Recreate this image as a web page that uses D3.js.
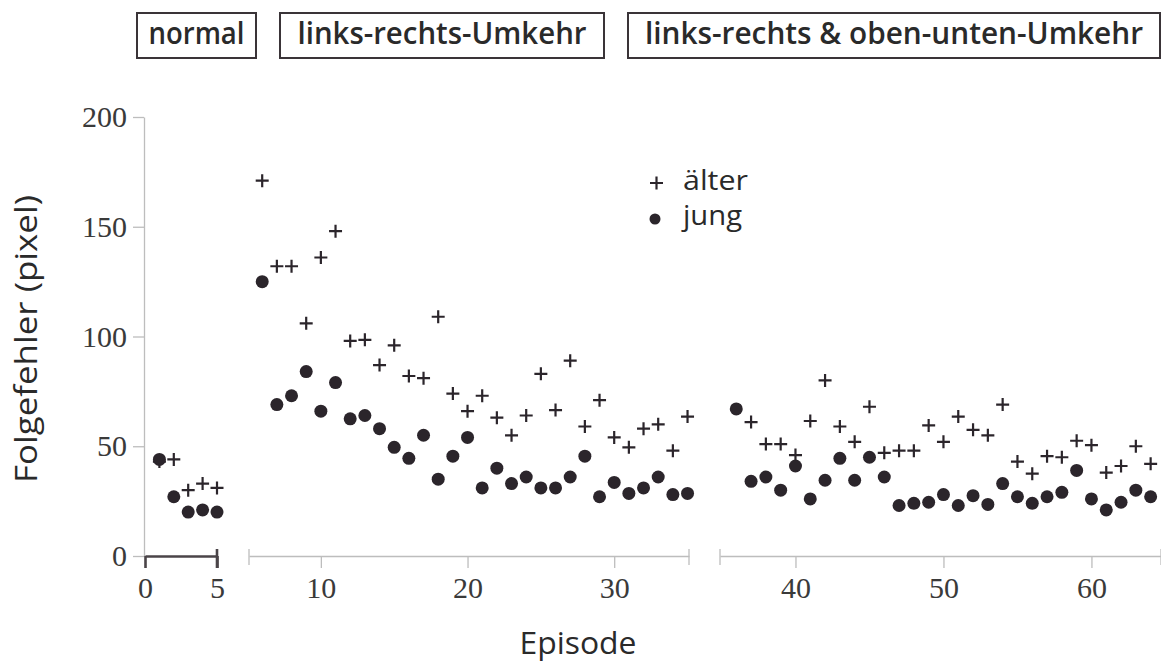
<!DOCTYPE html>
<html>
<head>
<meta charset="utf-8">
<script src="https://cdn.jsdelivr.net/npm/d3@7"></script>
<style>
  body { margin: 0; background: #fff; }
  svg { display: block; }
</style>
</head>
<body>
<div id="chart"></div>
<script>
// Episode numbers 1..64
var episodes = d3.range(1, 65);

// Folgefehler (pixel); null = no visible point
var aelter = [
    43, 44, 30, 33, 31,
    171, 132, 132, 106, 136, 148, 98, 98.5, 87, 96, 82, 81, 109, 74, 66,
    73, 63, 55, 64, 83, 66.5, 89, 59, 71, 54, 49.5, 58, 60, 48, 63.5,
    null, 61, 51, 51, 46, 61.5, 80, 59, 52, 68, 47, 48, 48, 59.5, 52,
    63.5, 57.5, 55, 69, 43, 37.5, 45.5, 45, 52.5, 50.5, 38, 41, 50, 42
];
var jung = [
    44, 27, 20, 21, 20,
    125, 69, 73, 84, 66, 79, 62.5, 64, 58, 49.5, 44.5, 55, 35, 45.5, 54,
    31, 40, 33, 36, 31, 31, 36, 45.5, 27, 33.5, 28.5, 31, 36, 28, 28.5,
    67, 34, 36, 30, 41, 26, 34.5, 44.5, 34.5, 45, 36, 23, 24, 24.5, 28,
    23, 27.5, 23.5, 33, 27, 24, 27, 29, 39, 26, 21, 24.5, 30, 27
];

// Phases of the experiment (broken x axis)
var phaseNames = ["normal", "links-rechts-Umkehr", "links-rechts & oben-unten-Umkehr"];
var phaseLastEpisode = [5, 35, 64];
var phaseDomains = [[0, 5], [5.1, 35.1], [34.9, 64.7]];
var phaseTicks = [[0, 5], [10, 20, 30], [40, 50, 60]];

var yTicks = [0, 50, 100, 150, 200];
var legendNames = ["älter", "jung"];

var width = 1161, height = 665;
var ink = "#2b252b";
var font = "'Open Sans', 'DejaVu Sans', sans-serif";
var serif = "'Liberation Serif', 'DejaVu Serif', serif";

var svg = d3.select("#chart").append("svg")
    .attr("width", width)
    .attr("height", height);

// y scale
var yScale = d3.scaleLinear().domain([0, 200]).range([556, 117]);

// one x scale per phase
var phaseRanges = [[145, 217], [249, 689], [720, 1161]];
var xScales = phaseDomains.map(function(dom, i) {
    return d3.scaleLinear().domain(dom).range(phaseRanges[i]);
});
function phaseOf(ep) {
    for (var i = 0; i < phaseLastEpisode.length; i++) {
        if (ep <= phaseLastEpisode[i]) return i;
    }
    return phaseLastEpisode.length - 1;
}
function xPos(ep) {
    return xScales[phaseOf(ep)](ep);
}

// y axis
var yAxis = svg.append("g")
    .attr("transform", "translate(144,0)")
    .call(d3.axisLeft(yScale).tickValues(yTicks).tickSize(11).tickSizeOuter(0).tickPadding(6));
yAxis.select(".domain").attr("stroke", "#bdbdbd").attr("stroke-width", 1.3);
yAxis.selectAll(".tick line").attr("stroke", "#bdbdbd").attr("stroke-width", 1.3);
yAxis.selectAll(".tick text")
    .attr("font-family", serif)
    .attr("font-size", "30px")
    .attr("fill", "#3a3a3a");

// x axes, one per phase
xScales.forEach(function(sc, i) {
    var col = i === 0 ? "#4a4448" : "#bdbdbd";
    var sw = i === 0 ? 2.6 : 1.3;
    var g = svg.append("g")
        .attr("transform", "translate(0,556)")
        .call(d3.axisBottom(sc).tickValues(phaseTicks[i]).tickFormat(d3.format("d"))
            .tickSize(12).tickSizeOuter(0).tickPadding(9));
    g.select(".domain").attr("stroke", col).attr("stroke-width", sw);
    g.selectAll(".tick line").attr("stroke", col).attr("stroke-width", sw);
    g.selectAll(".tick text")
        .attr("font-family", serif)
        .attr("font-size", "30px")
        .attr("fill", "#3a3a3a");
    // end caps of the broken axis
    var ends = i === 0 ? [sc.range()[1]] : sc.range();
    ends.forEach(function(xe) {
        g.append("line")
            .attr("x1", xe).attr("x2", xe)
            .attr("y1", -7).attr("y2", i === 0 ? 12 : 9)
            .attr("stroke", col)
            .attr("stroke-width", sw);
    });
});

// points: älter as plus signs
var plusData = episodes.map(function(ep, i) { return [ep, aelter[i]]; })
    .filter(function(d) { return d[1] !== null; });
svg.selectAll(".plus")
    .data(plusData)
    .enter()
    .append("path")
    .attr("class", "plus")
    .attr("d", function(d) {
        var x = xPos(d[0]), y = yScale(d[1]);
        return "M" + (x - 6.5) + "," + y + "H" + (x + 6.5) + "M" + x + "," + (y - 6.5) + "V" + (y + 6.5);
    })
    .attr("stroke", ink)
    .attr("stroke-width", 2.2)
    .attr("fill", "none");

// jung as filled dots
svg.selectAll(".dot")
    .data(episodes.map(function(ep, i) { return [ep, jung[i]]; }))
    .enter()
    .append("circle")
    .attr("class", "dot")
    .attr("cx", function(d) { return xPos(d[0]); })
    .attr("cy", function(d) { return yScale(d[1]); })
    .attr("r", 6.5)
    .attr("fill", ink);

// phase boxes at the top
var boxLeft = [137, 280, 628];
var boxWidth = [119, 324, 532];
var boxTextWidth = [96, 289, 498];
phaseNames.forEach(function(name, i) {
    svg.append("rect")
        .attr("x", boxLeft[i]).attr("y", 13)
        .attr("width", boxWidth[i]).attr("height", 45)
        .attr("fill", "none")
        .attr("stroke", "#3a3438")
        .attr("stroke-width", 2);
    svg.append("text")
        .attr("x", boxLeft[i] + boxWidth[i] / 2)
        .attr("y", 44)
        .attr("text-anchor", "middle")
        .attr("font-family", font)
        .attr("font-size", "30px")
        .attr("font-weight", 600)
        .attr("fill", "#2a2a2a")
        .attr("textLength", boxTextWidth[i])
        .attr("lengthAdjust", "spacingAndGlyphs")
        .text(name);
});

// legend
var legend = svg.append("g");
legend.append("path")
    .attr("d", "M650,183H663M656.5,176.5V189.5")
    .attr("stroke", ink)
    .attr("stroke-width", 2.2);
legend.append("circle")
    .attr("cx", 655).attr("cy", 219).attr("r", 5.5)
    .attr("fill", ink);
legend.selectAll("text")
    .data(legendNames)
    .enter()
    .append("text")
    .attr("x", 683)
    .attr("y", function(d, i) { return 190 + i * 35; })
    .attr("font-family", font)
    .attr("font-size", "27px")
    .attr("font-weight", 500)
    .attr("fill", "#2a2a2a")
    .attr("textLength", function(d, i) { return i === 0 ? 65 : 59; })
    .attr("lengthAdjust", "spacingAndGlyphs")
    .text(function(d) { return d; });

// axis titles
svg.append("text")
    .attr("transform", "rotate(-90)")
    .attr("x", -339)
    .attr("y", 37)
    .attr("text-anchor", "middle")
    .attr("font-family", font)
    .attr("font-size", "31px")
    .attr("font-weight", 500)
    .attr("fill", "#2a2a2a")
    .attr("textLength", 288)
    .attr("lengthAdjust", "spacingAndGlyphs")
    .text("Folgefehler (pixel)");

svg.append("text")
    .attr("x", 578)
    .attr("y", 654)
    .attr("text-anchor", "middle")
    .attr("font-family", font)
    .attr("font-size", "31px")
    .attr("font-weight", 500)
    .attr("fill", "#2a2a2a")
    .attr("textLength", 117)
    .attr("lengthAdjust", "spacingAndGlyphs")
    .text("Episode");
</script>
</body>
</html>
